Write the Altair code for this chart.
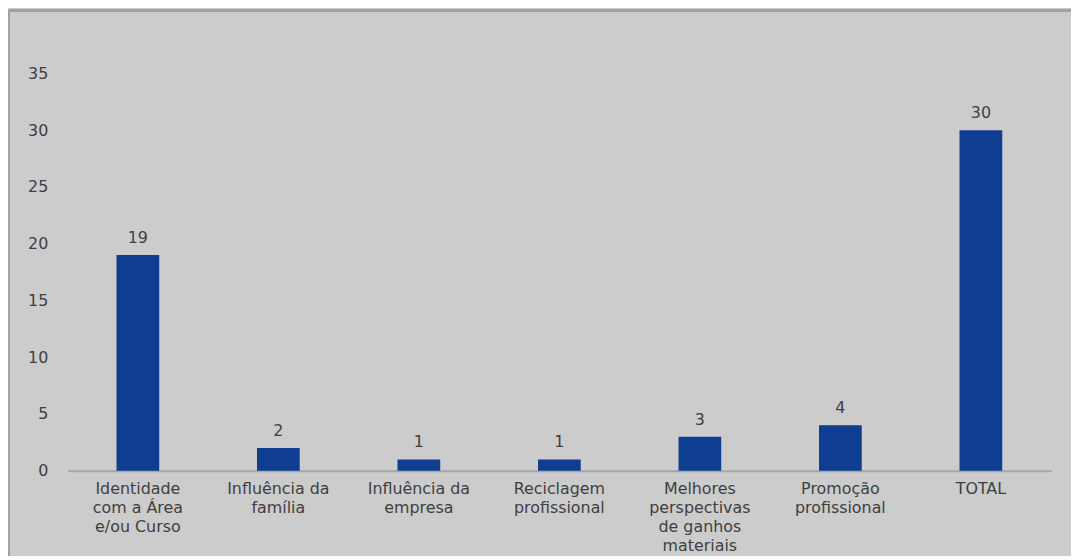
import altair as alt
import pandas as pd

categories = [
    "Identidade\ncom a Área\ne/ou Curso",
    "Influência da\nfamília",
    "Influência da\nempresa",
    "Reciclagem\nprofissional",
    "Melhores\nperspectivas\nde ganhos\nmateriais",
    "Promoção\nprofissional",
    "TOTAL",
]
values = [19, 2, 1, 1, 3, 4, 30]
y_ticks = [0, 5, 10, 15, 20, 25, 30, 35]

df = pd.DataFrame({"cat": categories, "val": values})

FONT = "DejaVu Sans"
TXT = "#404040"
FS = 16

x_enc = alt.X(
    "cat:N",
    sort=categories,
    scale=alt.Scale(paddingInner=0, paddingOuter=0),
    axis=alt.Axis(
        title=None,
        labelAngle=0,
        labelExpr="split(datum.label, '\\n')",
        labelFont=FONT,
        labelFontSize=FS,
        labelColor=TXT,
        labelPadding=10,
        labelLineHeight=19,
        labelBaseline="top",
        ticks=False,
        domainColor="#a6a6a6",
        domainWidth=2,
        grid=False,
    ),
)
y_enc = alt.Y(
    "val:Q",
    scale=alt.Scale(domain=[0, 35], nice=False),
    axis=alt.Axis(
        title=None,
        values=y_ticks,
        labelFont=FONT,
        labelFontSize=FS,
        labelColor=TXT,
        labelPadding=20,
        ticks=False,
        domain=False,
        grid=False,
    ),
)

base = alt.Chart(df)
bars = base.mark_bar(color="#0f3d91", size=43).encode(x=x_enc, y=y_enc)
labels = base.mark_text(
    font=FONT, fontSize=FS, color=TXT, baseline="bottom", dy=-9
).encode(x=x_enc, y=y_enc, text="val:Q")

border_top = alt.Chart(df).mark_rule(color="#a0a0a0", strokeWidth=2).encode(
    x=alt.value(-59), x2=alt.value(1020), y=alt.value(-63)
)
border_left = alt.Chart(df).mark_rule(color="#a0a0a0", strokeWidth=2).encode(
    x=alt.value(-59), y=alt.value(-63), y2=alt.value(490)
)

chart = (
    alt.layer(bars, labels, border_top, border_left)
    .properties(
        width=990,
        height=400,
        padding={"left": 60, "top": 64, "right": 20, "bottom": 84},
        autosize=alt.AutoSizeParams(type="none"),
        background="#cccccc",
    )
    .configure_view(stroke=None)
)

chart.save("out.html", embed_options={"renderer": "svg", "actions": False})
